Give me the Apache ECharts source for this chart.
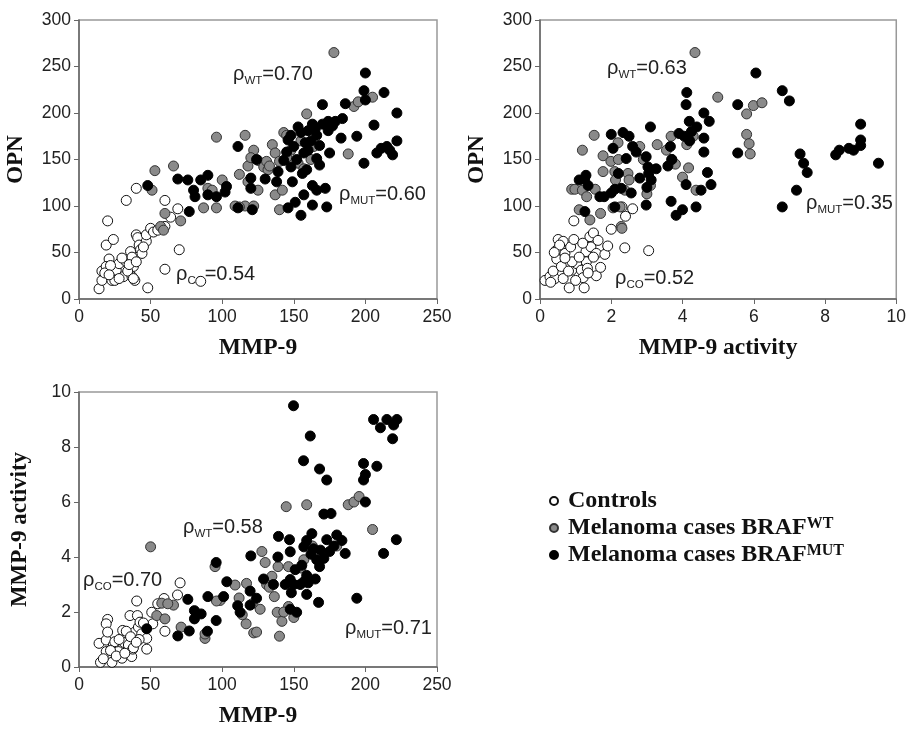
<!DOCTYPE html>
<html>
<head>
<meta charset="utf-8">
<script src="https://cdn.jsdelivr.net/npm/echarts@6/dist/echarts.min.js"></script>
<style>html,body{margin:0;padding:0;background:#fff}#c{width:909px;height:729px}</style>
</head>
<body>
<div id="c"></div>
<script>
// ---- Data: panel 1 (MMP-9 vs OPN) ----
var p1Controls = [[14,11],[16,20],[16,30],[20,84],[19,58],[24,64],[21,43],[19,35],[23,20],[26,31],[28,38],[31,24],[33,40],[33,106],[36,51],[37,45],[38,35],[37,24],[39,20],[40,69],[40,119],[41,66],[42,58],[43,53],[47,62],[48,12],[47,69],[50,76],[52,72],[60,106],[60,78],[60,32],[64,88],[69,97],[70,53],[85,19],[25,20],[18,28],[22,36],[30,44],[34,30],[28,22],[44,49],[45,56],[35,37],[40,40],[55,74],[38,22],[21,26]];
var p1WT = [[178,265],[205,217],[192,207],[195,212],[159,199],[96,174],[116,176],[188,156],[53,138],[66,143],[122,160],[118,143],[112,134],[120,152],[125,149],[129,142],[131,148],[132,139],[135,166],[137,157],[143,179],[145,176],[140,148],[153,146],[155,170],[164,164],[51,117],[87,98],[96,98],[100,128],[90,119],[109,100],[116,100],[122,100],[140,96],[137,112],[125,117],[142,117],[71,84],[60,92],[57,78],[59,74],[112,99],[93,117],[148,160],[157,140],[133,143],[145,152],[162,150],[118,126]];
var p1MUT = [[200,243],[199,224],[213,222],[222,200],[222,170],[200,214],[186,210],[170,209],[206,187],[194,175],[183,173],[199,146],[174,191],[179,191],[174,181],[184,194],[165,183],[160,181],[155,179],[148,176],[150,164],[145,158],[143,149],[148,142],[175,157],[166,151],[168,144],[160,160],[157,157],[208,157],[211,162],[215,164],[219,155],[217,160],[111,164],[124,150],[69,129],[76,128],[85,128],[90,133],[80,117],[81,110],[90,112],[96,110],[103,121],[102,115],[77,94],[48,122],[111,98],[121,96],[120,119],[120,130],[130,129],[139,137],[138,126],[149,126],[146,98],[151,104],[155,90],[157,112],[163,101],[163,122],[166,117],[172,119],[173,99],[156,135],[159,139],[162,170],[166,176],[152,150],[168,165],[158,168],[153,185],[170,188],[177,186],[163,188],[146,171]];

// ---- Data: panel 2 (MMP-9 activity vs OPN) ----
var p2Controls = [[0.14,20],[0.28,24],[0.42,22],[0.37,30],[0.51,64],[0.45,52],[0.47,43],[0.65,62],[0.7,49],[0.75,38],[0.65,22],[0.82,12],[0.86,56],[0.95,64],[0.95,84],[0.89,31],[1.03,38],[1.16,31],[1.21,23],[1.24,12],[1.29,51],[1.3,40],[1.33,33],[1.4,67],[1.5,71],[1.43,56],[1.63,63],[1.58,49],[1.58,25],[1.7,34],[1.82,48],[1.9,57],[2.0,75],[2.38,55],[2.4,89],[2.6,97],[3.05,52],[2.3,99],[0.55,58],[0.6,35],[0.9,40],[1.1,45],[0.8,30],[0.4,50],[1.0,20],[1.2,60],[1.5,45],[0.3,18],[0.7,44],[1.35,28]];
var p2WT = [[4.35,265],[4.99,217],[5.99,208],[6.23,211],[5.8,199],[5.8,177],[5.87,167],[5.9,156],[1.52,176],[1.19,160],[1.77,154],[1.77,137],[2.19,168],[1.99,148],[2.1,137],[2.12,128],[0.89,118],[0.98,118],[1.19,117],[1.1,96],[1.4,85],[1.7,92],[2.05,98],[2.28,78],[2.38,117],[2.47,135],[2.8,164],[3.0,113],[3.29,166],[3.68,175],[3.8,145],[4.0,131],[4.17,141],[4.38,117],[4.12,166],[1.31,110],[2.2,150],[2.5,128],[3.55,160],[3.7,150],[4.3,175],[1.55,118],[2.25,99],[2.9,150],[3.1,122],[2.3,76]];
var p2MUT = [[6.06,243],[6.8,224],[7.0,213],[5.55,209],[5.55,157],[6.8,99],[7.2,117],[7.3,156],[7.4,146],[7.5,136],[8.3,155],[8.4,160],[8.67,162],[8.8,160],[9.0,188],[9.0,171],[9.0,165],[9.5,146],[4.12,222],[4.1,209],[4.6,200],[3.1,185],[2.0,177],[2.33,179],[2.5,175],[1.1,128],[1.29,133],[1.35,122],[1.26,94],[1.68,110],[2.0,114],[2.28,119],[2.56,114],[2.6,164],[2.42,151],[2.98,153],[3.03,142],[3.12,128],[3.26,140],[2.98,101],[3.66,164],[3.59,143],[3.68,105],[3.82,90],[4.0,96],[3.9,178],[4.1,123],[4.38,99],[4.52,117],[4.6,173],[4.6,158],[4.7,136],[4.8,123],[4.75,191],[4.19,191],[2.1,99],[2.05,162],[2.2,135],[2.7,158],[2.8,130],[3.0,120],[1.8,110],[4.25,180],[4.4,185],[3.7,150],[4.2,170],[4.05,175],[2.1,118],[1.25,129],[3.05,135]];

// ---- Data: panel 3 (MMP-9 vs MMP-9 activity) ----
var p3Controls = [[15,0.17],[23,0.17],[14,0.86],[19,0.98],[20,1.73],[19,1.57],[20,1.27],[19,0.56],[24,0.8],[25,0.92],[27.5,0.56],[30,0.32],[30.5,1.33],[31.5,0.89],[34.5,0.8],[35.6,1.87],[36.8,0.38],[37.5,0.65],[39,1.27],[40.3,2.4],[40.8,1.87],[41.5,1.45],[42.6,1.63],[43.8,1.21],[47.3,1.04],[47.3,0.65],[50.8,1.99],[51.5,1.57],[59.4,2.49],[60,1.3],[68.8,2.62],[70.6,3.06],[17,0.3],[22,0.6],[28,1.0],[33,1.3],[36,1.1],[38,0.7],[42,1.0],[45,1.6],[26,0.4],[32,0.5],[40,0.9],[55,2.3]];
var p3WT = [[50,4.37],[54.3,1.87],[57.8,2.32],[60,1.75],[66,2.25],[71.3,1.45],[88,1.04],[95,3.65],[98.6,2.42],[109,2.98],[111.8,2.51],[117,3.04],[116.7,1.57],[122,1.24],[124,1.27],[127.7,4.2],[130,3.8],[126.5,2.1],[134.7,3.3],[136.4,2.56],[139,3.65],[140,1.12],[138.4,1.99],[141.7,1.66],[144.7,5.83],[146.3,3.65],[146.3,2.2],[150,1.8],[159,5.9],[157,3.9],[188,5.9],[192,6.0],[195.6,6.2],[205,5.0],[131,3.0],[114,1.9],[121,2.3],[133,2.9],[143,2.0],[96,2.4],[88,1.2],[62,2.3],[155,3.6],[163,4.4],[180,4.4],[148,3.0]];
var p3MUT = [[149.8,9.5],[161.5,8.4],[156.8,7.5],[168,7.2],[173,6.8],[171,5.56],[176,5.58],[205.7,9.0],[210.5,8.7],[215,9.0],[219.7,8.8],[222,9.0],[219,8.3],[198.7,7.4],[208,7.3],[200,7.0],[198.7,6.8],[200,6.0],[221.6,4.63],[212.7,4.13],[194,2.5],[185.9,4.13],[180,4.8],[183.6,4.6],[173,4.63],[167.3,2.35],[159,2.64],[139.3,4.75],[147,4.63],[138.9,4.0],[135.8,3.0],[128.9,3.2],[120,4.04],[119.5,2.76],[124,2.5],[119.5,2.25],[110.8,2.23],[112.5,1.99],[103.2,3.1],[101,2.56],[95.8,3.8],[95.8,1.69],[90,2.56],[89.7,1.3],[85.3,1.93],[80.6,2.05],[80.6,1.75],[77,1.31],[76,2.46],[69,1.13],[47.3,1.39],[144,3.0],[147.5,3.18],[147.5,4.19],[151,3.54],[148.3,2.7],[147.5,2.1],[152,1.99],[150,3.0],[154.5,3.0],[155.6,3.7],[157,4.37],[159,4.6],[162.6,4.85],[163.7,4.3],[166,3.9],[168,3.65],[165,3.2],[159,3.33],[160,3.06],[168.6,4.25],[171,3.95],[175,4.2],[178,4.4],[162,4.1],[157,3.1]];

// ---- Labels ----
var seriesNames = ['Controls', 'Melanoma cases BRAF WT', 'Melanoma cases BRAF MUT'];
var legendLabels = ['Controls', 'Melanoma cases BRAF{sup|WT}', 'Melanoma cases BRAF{sup|MUT}'];
var axisNames = { mmp9: 'MMP-9', opn: 'OPN', activity: 'MMP-9 activity' };
// correlation annotations: [group, value]
var rhoLabels = [
  ['WT', '0.70'], ['MUT', '0.60'], ['CO', '0.54'],
  ['WT', '0.63'], ['MUT', '0.35'], ['CO', '0.52'],
  ['WT', '0.58'], ['CO', '0.70'], ['MUT', '0.71']
];
var rhoPos = [[233,62],[339,182],[176,262],[607,56],[806,191],[615,266],[183,515],[83,568],[345,616]];

var SANS = 'Liberation Sans, Arial, sans-serif';
var SERIF = 'Liberation Serif, Times New Roman, serif';

var styles = [
  { color: '#ffffff', borderColor: '#111', borderWidth: 1, opacity: 1 },
  { color: '#8a8a8a', borderColor: '#333', borderWidth: 1, opacity: 1 },
  { color: '#000000', borderColor: '#000', borderWidth: 1, opacity: 1 }
];

function xAx(idx, max, interval, name) {
  return {
    gridIndex: idx, type: 'value', min: 0, max: max, interval: interval,
    name: name, nameLocation: 'middle', nameGap: 37,
    nameTextStyle: { fontFamily: SERIF, fontWeight: 'bold', fontSize: 23.5, color: '#111' },
    axisLine: { show: true, onZero: false, lineStyle: { color: '#666', width: 1.5 } },
    axisTick: { show: true, inside: false, length: 5, lineStyle: { color: '#666' } },
    axisLabel: { fontFamily: SANS, fontSize: 17.5, color: '#222', margin: 9 },
    splitLine: { show: false }
  };
}
function yAx(idx, max, interval, name, gap) {
  return {
    gridIndex: idx, type: 'value', min: 0, max: max, interval: interval,
    name: name, nameLocation: 'middle', nameGap: gap,
    nameTextStyle: { fontFamily: SERIF, fontWeight: 'bold', fontSize: 23, color: '#111' },
    axisLine: { show: true, onZero: false, lineStyle: { color: '#666', width: 1.5 } },
    axisTick: { show: true, inside: false, length: 5, lineStyle: { color: '#666' } },
    axisLabel: { fontFamily: SANS, fontSize: 17.5, color: '#222', margin: 8 },
    splitLine: { show: false }
  };
}
function sc(i, data, k) {
  return {
    type: 'scatter', name: seriesNames[k], xAxisIndex: i, yAxisIndex: i,
    data: data, symbol: 'circle', symbolSize: 10, itemStyle: styles[k],
    emphasis: { disabled: true }, animation: false
  };
}

var graphics = rhoLabels.map(function (r, i) {
  return {
    type: 'text', left: rhoPos[i][0], top: rhoPos[i][1],
    style: {
      text: '{m|ρ}{s|' + r[0] + '}{m|=' + r[1] + '}',
      rich: {
        m: { fontFamily: SANS, fontSize: 20, lineHeight: 25, fill: '#222' },
        s: { fontFamily: SANS, fontSize: 11.5, lineHeight: 12, padding: [13, 0, 0, 0], fill: '#222' }
      }
    }
  };
});

var chart = echarts.init(document.getElementById('c'), null, { renderer: 'canvas' });
chart.setOption({
  animation: false,
  backgroundColor: '#fff',
  grid: [
    { left: 79, top: 20, width: 358, height: 279, show: true, borderColor: '#999', borderWidth: 1.5, backgroundColor: 'transparent' },
    { left: 540, top: 20, width: 358, height: 279, show: true, borderColor: '#999', borderWidth: 1.5, backgroundColor: 'transparent' },
    { left: 79, top: 392, width: 358, height: 280, show: true, borderColor: '#999', borderWidth: 1.5, backgroundColor: 'transparent' }
  ],
  xAxis: [xAx(0, 250, 50, axisNames.mmp9), xAx(1, 10, 2, axisNames.activity), xAx(2, 250, 50, axisNames.mmp9)],
  yAxis: [yAx(0, 300, 50, axisNames.opn, 51), yAx(1, 300, 50, axisNames.opn, 51), yAx(2, 10, 2, axisNames.activity, 47)],
  legend: {
    orient: 'vertical', left: 544, top: 484, itemWidth: 18, itemHeight: 8, itemGap: 3,
    icon: 'circle', selectedMode: false,
    data: seriesNames,
    formatter: function (n) { return legendLabels[seriesNames.indexOf(n)]; },
    textStyle: {
      fontFamily: SERIF, fontWeight: 'bold', fontSize: 24, color: '#111', lineHeight: 24,
      rich: { sup: { fontFamily: SERIF, fontWeight: 'bold', fontSize: 16, lineHeight: 16, verticalAlign: 'top', color: '#111' } }
    }
  },
  graphic: graphics,
  series: [
    sc(0, p1Controls, 0), sc(0, p1WT, 1), sc(0, p1MUT, 2),
    sc(1, p2Controls, 0), sc(1, p2WT, 1), sc(1, p2MUT, 2),
    sc(2, p3Controls, 0), sc(2, p3WT, 1), sc(2, p3MUT, 2)
  ]
});
</script>
</body>
</html>
